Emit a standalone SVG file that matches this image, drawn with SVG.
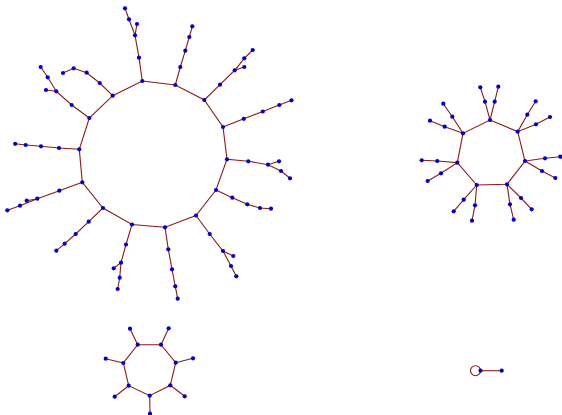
<svg xmlns="http://www.w3.org/2000/svg" width="562" height="415" viewBox="0 0 562 415">
<style>
.e{stroke:#8b1a1a;stroke-width:1.1;fill:none}
.n{fill:#0000c8;stroke:none}
</style>
<defs><circle id="d" r="2.1"/></defs>
<rect width="562" height="415" fill="#fff"/>
<g id="connectors" class="e">
<polygon points="142.3,81 175.3,85 204.3,100 223,127 227,159.3 216,190 196,215.5 165,227.3 132,224.5 103,208 82.3,182.3 79.3,149.3 89.3,118 112.7,95.7"/>
<polyline points="142.3,81 139,57.7 135,35.3 137,24"/><polyline points="135,35.3 129,19.3 125,8.3"/>
<polyline points="175.3,85 180.3,67 185.3,50.7 189.3,37 192.3,26.3"/>
<polyline points="204.3,100 220,84.7 234.7,70.3 244.3,67"/><polyline points="234.7,70.3 244.3,58.3 252.7,50"/>
<polyline points="223,127 243.8,118.8 262.8,111.5 279.3,105 291.5,100.3"/>
<polyline points="227,159.3 248.3,161.3 268,164.7 279,161.3"/><polyline points="268,164.7 281,171 290,178.3"/>
<polyline points="216,190 232.3,197.7 247.3,204.3 260,208 271,208.7"/>
<polyline points="196,215.5 209.7,234 223,251 233.3,256"/><polyline points="223,251 231,266 236.3,276.3"/>
<polyline points="165,227.3 168.3,249.3 172,269.3 175.3,286.3 177.7,298.7"/>
<polyline points="132,224.5 126,244.5 121,262.7 113.7,268.3"/><polyline points="121,262.7 119.7,277.7 117.7,289"/>
<polyline points="103,208 88.7,221.7 75.7,234 64.7,243.7 56.3,250.7"/>
<polyline points="82.3,182.3 59.3,190.7 37.3,198.7 26.7,200.7"/><polyline points="37.3,198.7 20,205.7 7.3,210.3"/>
<polyline points="79.3,149.3 59,148 41,146.3 25.7,145 15.2,143.8"/>
<polyline points="89.3,118 71.7,105 56.3,91.3 46,90"/><polyline points="56.3,91.3 47.7,77.3 40.7,67"/>
<polyline points="112.7,95.7 99.7,83 86.7,72.7 73.7,68.3 63,73"/>
<polygon points="490,120 517.7,131.7 525,161 507,184.3 476.7,185 457.3,162.7 463,133.3"/>
<polyline points="480.3,87.3 485,101.7 490,120 494.7,101.7 498.3,86.7"/>
<polyline points="535.7,101.3 527.3,114.7 517.7,131.7 536,124.3 550,117"/>
<polyline points="560.3,156.7 545,158.3 525,161 542,171 555.3,178"/>
<polyline points="531.7,209.3 521,198 507,184.3 510,204.3 513.7,219.7"/>
<polyline points="472,220.7 475,205.3 476.7,185 463.7,199.7 453.7,211.3"/>
<polyline points="427.7,181 441,173.3 457.3,162.7 437.3,161 421.7,160.3"/>
<polyline points="430,120.7 444.7,126.7 463,133.3 452.3,116.7 443.3,103.7"/>
<polygon points="137.7,344.7 161,344.7 175.7,362.7 170.3,385.3 149.7,395.7 128.7,385.7 123.3,363"/>
<line x1="137.7" y1="344.7" x2="130" y2="328.7"/><line x1="161" y1="344.7" x2="168.7" y2="328.3"/>
<line x1="175.7" y1="362.7" x2="193" y2="358.3"/><line x1="170.3" y1="385.3" x2="184.7" y2="396.3"/>
<line x1="149.7" y1="395.7" x2="150" y2="413.7"/><line x1="128.7" y1="385.7" x2="114.7" y2="396.7"/>
<line x1="123.3" y1="363" x2="105.7" y2="358.7"/>
<circle cx="475.5" cy="370.7" r="5"/>
<line x1="480.5" y1="370.7" x2="501.7" y2="370.7"/>
</g>
<g class="n">
<g id="r1"><use href="#d" x="142.3" y="81"/></g>
<g id="r2"><use href="#d" x="175.3" y="85"/></g>
<g id="r3"><use href="#d" x="204.3" y="100"/></g>
<g id="r4"><use href="#d" x="223" y="127"/></g>
<g id="r5"><use href="#d" x="227" y="159.3"/></g>
<g id="r6"><use href="#d" x="216" y="190"/></g>
<g id="r7"><use href="#d" x="196" y="215.5"/></g>
<g id="r8"><use href="#d" x="165" y="227.3"/></g>
<g id="r9"><use href="#d" x="132" y="224.5"/></g>
<g id="r10"><use href="#d" x="103" y="208"/></g>
<g id="r11"><use href="#d" x="82.3" y="182.3"/></g>
<g id="r12"><use href="#d" x="79.3" y="149.3"/></g>
<g id="r13"><use href="#d" x="89.3" y="118"/></g>
<g id="r14"><use href="#d" x="112.7" y="95.7"/></g>
<g id="a1"><use href="#d" x="139" y="57.7"/></g><g id="a2"><use href="#d" x="135" y="35.3"/></g><g id="a3"><use href="#d" x="137" y="24"/></g><g id="a4"><use href="#d" x="129" y="19.3"/></g><g id="a5"><use href="#d" x="125" y="8.3"/></g>
<g id="b1"><use href="#d" x="180.3" y="67"/></g><g id="b2"><use href="#d" x="185.3" y="50.7"/></g><g id="b3"><use href="#d" x="189.3" y="37"/></g><g id="b4"><use href="#d" x="192.3" y="26.3"/></g>
<g id="c1"><use href="#d" x="220" y="84.7"/></g><g id="c2"><use href="#d" x="234.7" y="70.3"/></g><g id="c3"><use href="#d" x="244.3" y="67"/></g><g id="c4"><use href="#d" x="244.3" y="58.3"/></g><g id="c5"><use href="#d" x="252.7" y="50"/></g>
<g id="d1"><use href="#d" x="243.8" y="118.8"/></g><g id="d2"><use href="#d" x="262.8" y="111.5"/></g><g id="d3"><use href="#d" x="279.3" y="105"/></g><g id="d4"><use href="#d" x="291.5" y="100.3"/></g>
<g id="e1"><use href="#d" x="248.3" y="161.3"/></g><g id="e2"><use href="#d" x="268" y="164.7"/></g><g id="e3"><use href="#d" x="279" y="161.3"/></g><g id="e4"><use href="#d" x="281" y="171"/></g><g id="e5"><use href="#d" x="290" y="178.3"/></g>
<g id="f1"><use href="#d" x="232.3" y="197.7"/></g><g id="f2"><use href="#d" x="247.3" y="204.3"/></g><g id="f3"><use href="#d" x="260" y="208"/></g><g id="f4"><use href="#d" x="271" y="208.7"/></g>
<g id="g1"><use href="#d" x="209.7" y="234"/></g><g id="g2"><use href="#d" x="223" y="251"/></g><g id="g3"><use href="#d" x="233.3" y="256"/></g><g id="g4"><use href="#d" x="231" y="266"/></g><g id="g5"><use href="#d" x="236.3" y="276.3"/></g>
<g id="h1"><use href="#d" x="168.3" y="249.3"/></g><g id="h2"><use href="#d" x="172" y="269.3"/></g><g id="h3"><use href="#d" x="175.3" y="286.3"/></g><g id="h4"><use href="#d" x="177.7" y="298.7"/></g>
<g id="i1"><use href="#d" x="126" y="244.5"/></g><g id="i2"><use href="#d" x="121" y="262.7"/></g><g id="i3"><use href="#d" x="113.7" y="268.3"/></g><g id="i4"><use href="#d" x="119.7" y="277.7"/></g><g id="i5"><use href="#d" x="117.7" y="289"/></g>
<g id="j1"><use href="#d" x="88.7" y="221.7"/></g><g id="j2"><use href="#d" x="75.7" y="234"/></g><g id="j3"><use href="#d" x="64.7" y="243.7"/></g><g id="j4"><use href="#d" x="56.3" y="250.7"/></g>
<g id="k1"><use href="#d" x="59.3" y="190.7"/></g><g id="k2"><use href="#d" x="37.3" y="198.7"/></g><g id="k3"><use href="#d" x="26.7" y="200.7"/></g><g id="k4"><use href="#d" x="20" y="205.7"/></g><g id="k5"><use href="#d" x="7.3" y="210.3"/></g>
<g id="l1"><use href="#d" x="59" y="148"/></g><g id="l2"><use href="#d" x="41" y="146.3"/></g><g id="l3"><use href="#d" x="25.7" y="145"/></g><g id="l4"><use href="#d" x="15.2" y="143.8"/></g>
<g id="m1"><use href="#d" x="71.7" y="105"/></g><g id="m2"><use href="#d" x="56.3" y="91.3"/></g><g id="m3"><use href="#d" x="46" y="90"/></g><g id="m4"><use href="#d" x="47.7" y="77.3"/></g><g id="m5"><use href="#d" x="40.7" y="67"/></g>
<g id="o1"><use href="#d" x="99.7" y="83"/></g><g id="o2"><use href="#d" x="86.7" y="72.7"/></g><g id="o3"><use href="#d" x="73.7" y="68.3"/></g><g id="o4"><use href="#d" x="63" y="73"/></g>
<g id="p1"><use href="#d" x="490" y="120"/></g><g id="p2"><use href="#d" x="517.7" y="131.7"/></g><g id="p3"><use href="#d" x="525" y="161"/></g><g id="p4"><use href="#d" x="507" y="184.3"/></g><g id="p5"><use href="#d" x="476.7" y="185"/></g><g id="p6"><use href="#d" x="457.3" y="162.7"/></g><g id="p7"><use href="#d" x="463" y="133.3"/></g>
<g id="q1"><use href="#d" x="485" y="101.7"/></g><g id="q2"><use href="#d" x="480.3" y="87.3"/></g><g id="q3"><use href="#d" x="494.7" y="101.7"/></g><g id="q4"><use href="#d" x="498.3" y="86.7"/></g>
<g id="q5"><use href="#d" x="527.3" y="114.7"/></g><g id="q6"><use href="#d" x="535.7" y="101.3"/></g><g id="q7"><use href="#d" x="536" y="124.3"/></g><g id="q8"><use href="#d" x="550" y="117"/></g>
<g id="q9"><use href="#d" x="545" y="158.3"/></g><g id="q10"><use href="#d" x="560.3" y="156.7"/></g><g id="q11"><use href="#d" x="542" y="171"/></g><g id="q12"><use href="#d" x="555.3" y="178"/></g>
<g id="q13"><use href="#d" x="521" y="198"/></g><g id="q14"><use href="#d" x="531.7" y="209.3"/></g><g id="q15"><use href="#d" x="510" y="204.3"/></g><g id="q16"><use href="#d" x="513.7" y="219.7"/></g>
<g id="q17"><use href="#d" x="475" y="205.3"/></g><g id="q18"><use href="#d" x="472" y="220.7"/></g><g id="q19"><use href="#d" x="463.7" y="199.7"/></g><g id="q20"><use href="#d" x="453.7" y="211.3"/></g>
<g id="q21"><use href="#d" x="441" y="173.3"/></g><g id="q22"><use href="#d" x="427.7" y="181"/></g><g id="q23"><use href="#d" x="437.3" y="161"/></g><g id="q24"><use href="#d" x="421.7" y="160.3"/></g>
<g id="q25"><use href="#d" x="444.7" y="126.7"/></g><g id="q26"><use href="#d" x="430" y="120.7"/></g><g id="q27"><use href="#d" x="452.3" y="116.7"/></g><g id="q28"><use href="#d" x="443.3" y="103.7"/></g>
<g id="s1"><use href="#d" x="137.7" y="344.7"/></g><g id="s2"><use href="#d" x="161" y="344.7"/></g><g id="s3"><use href="#d" x="175.7" y="362.7"/></g><g id="s4"><use href="#d" x="170.3" y="385.3"/></g><g id="s5"><use href="#d" x="149.7" y="395.7"/></g><g id="s6"><use href="#d" x="128.7" y="385.7"/></g><g id="s7"><use href="#d" x="123.3" y="363"/></g>
<g id="t1"><use href="#d" x="130" y="328.7"/></g><g id="t2"><use href="#d" x="168.7" y="328.3"/></g><g id="t3"><use href="#d" x="193" y="358.3"/></g><g id="t4"><use href="#d" x="184.7" y="396.3"/></g><g id="t5"><use href="#d" x="150" y="413.7"/></g><g id="t6"><use href="#d" x="114.7" y="396.7"/></g><g id="t7"><use href="#d" x="105.7" y="358.7"/></g>
<g id="u1"><use href="#d" x="480.5" y="370.7"/></g><g id="u2"><use href="#d" x="501.7" y="370.7"/></g>
</g>
</svg>
